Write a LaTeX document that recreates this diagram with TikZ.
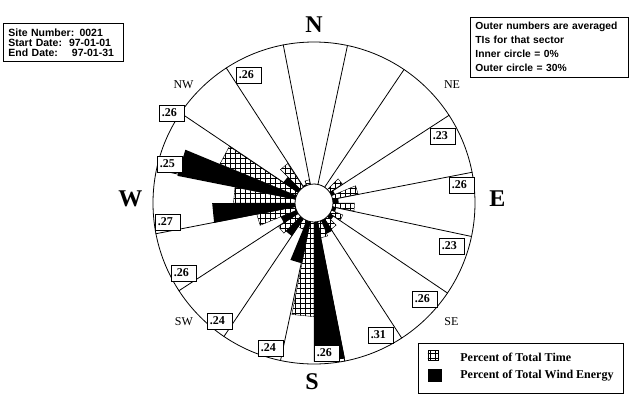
\documentclass[tikz,border=0pt]{standalone}
\usepackage{fontspec}
\setmainfont{Liberation Serif}
\setsansfont{Liberation Sans}
\usepackage{tikz}
\usetikzlibrary{calc,positioning,patterns,backgrounds}

% square grid for the time wedges
\pgfdeclarepatternformonly{timegrid}{\pgfqpoint{-1pt}{-1pt}}{\pgfqpoint{5pt}{5pt}}{\pgfqpoint{5pt}{5pt}}
{
  \pgfsetlinewidth{0.6pt}
  \pgfpathmoveto{\pgfqpoint{0pt}{0pt}}
  \pgfpathlineto{\pgfqpoint{0pt}{5.1pt}}
  \pgfpathmoveto{\pgfqpoint{0pt}{0pt}}
  \pgfpathlineto{\pgfqpoint{5.1pt}{0pt}}
  \pgfusepath{stroke}
}

\begin{document}
\begin{tikzpicture}[x=1pt,y=1pt,line width=0.8pt,
		infobox/.style={draw,fill=white,anchor=north west,align=left,inner xsep=5pt,inner ysep=5pt,font=\sffamily\bfseries},
		tibox/.style={draw,fill=white,text width=20pt,inner xsep=2.5pt,inner ysep=0pt,minimum height=16pt,font=\bfseries\fontsize{12}{12}\selectfont},
		compass/.style={inner sep=0pt,font=\bfseries\fontsize{24}{24}\selectfont},
		octant/.style={inner sep=0pt,font=\fontsize{12}{12}\selectfont},
		legendtext/.style={inner sep=0pt,anchor=west,font=\bfseries\fontsize{12}{12}\selectfont}]
		\useasboundingbox (-314,-205) rectangle (316,203);
		\node(rim) [shape=circle,draw,minimum size=322pt,inner sep=0pt] at (0,0) {};
		\node(hub) [shape=circle,draw,fill=white,minimum size=38pt,inner sep=0pt] at (0,0) {};
		\begin{scope}[on background layer]
			% bearing / time / energy (percent)
			\foreach \b/\t/\e in {0/0/0,22.5/0/0,45/3.2/0,67.5/5.5/0.8,90/4.6/1.2,112.5/2.6/0.8,135/2.6/1,157.5/3.5/3,180/20/29.5,202.5/2/9,225/5/4.4,247.5/8.3/3.6,270/13/17.5,292.5/17.5/25.4,315/6/3.8,337.5/1/0.3}{
				\pgfmathsetmacro{\rt}{19+142*\t/30}
				\pgfmathsetmacro{\re}{19+142*\e/30}
				\draw [pattern=timegrid] (0,0) -- (90-\b:\rt) -- (78.75-\b:\rt) -- cycle;
				\fill (0,0) -- (101.25-\b:\re) -- (90-\b:\re) -- cycle;
			}
		\end{scope}
		\foreach \k [evaluate=\k as \a using 438.75-22.5*\k] in {0,...,15}
			\draw (hub.\a) -- (rim.\a);
		\foreach \n/\x/\y/\v in {nnw/-65/128/26,nw/-142/90/26,wnw/-144/39/25,w/-146/-19/27,wsw/-130/-70/26,sw/-94/-118/24,ssw/-43/-145/24,s/13/-150/26,sse/67/-132/31,se/111/-96/26,ese/138/-43/23,e/148/18/26,ene/129/67/23}
			\node(ti\n) [tibox] at (\x,\y) {.\v};
		\node(north) [compass] at (0,178) {N};
		\node(south) [compass] at (-2,-179) {S};
		\node(west) [compass] at (-183.5,4) {W};
		\node(east) [compass] at (183.5,4.5) {E};
		\node(nwlabel) [octant] at (-130.5,118.5) {NW};
		\node(nelabel) [octant] at (138,118.5) {NE};
		\node(swlabel) [octant] at (-130,-119) {SW};
		\node(selabel) [octant] at (137.5,-119) {SE};
		\node(site) [infobox,text width=110pt,font=\sffamily\bfseries\fontsize{10.5}{10}\selectfont] at (-311,180) {Site Number: 0021\\Start Date:~~97-01-01\\End Date:~~~~97-01-31};
		\node(notes) [infobox,text width=148pt,font=\sffamily\bfseries\fontsize{10.3}{14}\selectfont] at (156,186) {Outer numbers are averaged\\TIs for that sector\\Inner circle = 0\%\\Outer circle = 30\%};
		\node(legend) [draw,anchor=north west,minimum width=205pt,minimum height=50pt,inner sep=0pt] at (104,-140) {};
		\node(timekey) [draw,pattern=timegrid,minimum size=10pt,inner sep=0pt] at (119,-152.5) {};
		\node(energykey) [fill=black,minimum width=14pt,minimum height=13pt,inner sep=0pt] at (121,-172.5) {};
		\node(timetext) [legendtext] at (146,-154) {Percent of Total Time};
		\node(energytext) [legendtext] at (timetext.west |- energykey) {Percent of Total Wind Energy};
	\end{tikzpicture}
\end{document}
